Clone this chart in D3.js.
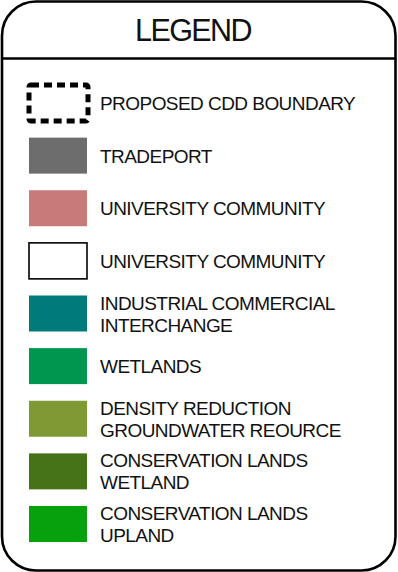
<!DOCTYPE html>
<html>
<head>
<meta charset="utf-8">
<script src="https://cdn.jsdelivr.net/npm/d3@7"></script>
<style>
  html, body { margin: 0; padding: 0; background: #fff; }
  svg { display: block; }
  text { font-family: "Liberation Sans", Arial, sans-serif; fill: #111; }
</style>
</head>
<body>
<svg id="legend"></svg>
<script>
// legend entries
const title = 'LEGEND';
const labels = [
  ['PROPOSED CDD BOUNDARY'],
  ['TRADEPORT'],
  ['UNIVERSITY COMMUNITY'],
  ['UNIVERSITY COMMUNITY'],
  ['INDUSTRIAL COMMERCIAL', 'INTERCHANGE'],
  ['WETLANDS'],
  ['DENSITY REDUCTION', 'GROUNDWATER REOURCE'],
  ['CONSERVATION LANDS', 'WETLAND'],
  ['CONSERVATION LANDS', 'UPLAND']
];
const kinds = ['dashed', 'fill', 'fill', 'outline', 'fill', 'fill', 'fill', 'fill', 'fill'];
const colors = ['none', '#6d6d6d', '#c87a7b', '#ffffff', '#007a7a', '#00964f', '#7f9a35', '#467318', '#08a10e'];

const W = 398, H = 572;
const svg = d3.select('#legend').attr('width', W).attr('height', H);

// outer frame
svg.append('rect')
  .attr('x', 2).attr('y', 1.5)
  .attr('width', W - 4.5).attr('height', H - 3)
  .attr('rx', 34).attr('ry', 34)
  .attr('fill', '#fff')
  .attr('stroke', '#000')
  .attr('stroke-width', 2.6);

svg.append('line')
  .attr('x1', 2).attr('x2', W - 2.5)
  .attr('y1', 58.5).attr('y2', 58.5)
  .attr('stroke', '#000')
  .attr('stroke-width', 2.4);

svg.append('text')
  .attr('x', W / 2 - 6).attr('y', 40.5)
  .attr('text-anchor', 'middle')
  .style('font-size', '30.5px')
  .style('letter-spacing', '-1.6px')
  .text(title);

const y = d3.scalePoint()
  .domain(d3.range(labels.length))
  .range([103, 524]);

const swW = 58, swH = 36, swX = 29;

const rows = svg.selectAll('.row')
  .data(labels.map((l, i) => ({lines: l, kind: kinds[i], color: colors[i], i: i})))
  .enter().append('g')
  .attr('class', 'row')
  .attr('transform', d => 'translate(0,' + y(d.i) + ')');

// swatches
rows.append('rect')
  .attr('x', swX)
  .attr('y', d => d.kind === 'dashed' ? -18 : -swH / 2)
  .attr('width', d => d.kind === 'dashed' ? 59 : swW)
  .attr('height', d => d.kind === 'dashed' ? 36 : swH)
  .attr('fill', d => d.kind === 'dashed' ? 'none' : d.color)
  .attr('stroke', d => d.kind === 'fill' ? 'none' : '#000')
  .attr('stroke-width', d => d.kind === 'dashed' ? 5 : 1.6)
  .attr('stroke-dasharray', d => d.kind === 'dashed' ? '8,5' : null)
  .attr('rx', d => d.kind === 'dashed' ? 2 : 0);

// labels
const lineH = 22;
rows.append('text')
  .attr('x', 100)
  .style('font-size', '19px')
  .style('letter-spacing', '-0.55px')
  .each(function(d) {
    const t = d3.select(this);
    const n = d.lines.length;
    d.lines.forEach((s, k) => {
      t.append('tspan')
        .attr('x', 100)
        .attr('y', (k - (n - 1) / 2) * lineH + 7)
        .text(s);
    });
  });
</script>
</body>
</html>
